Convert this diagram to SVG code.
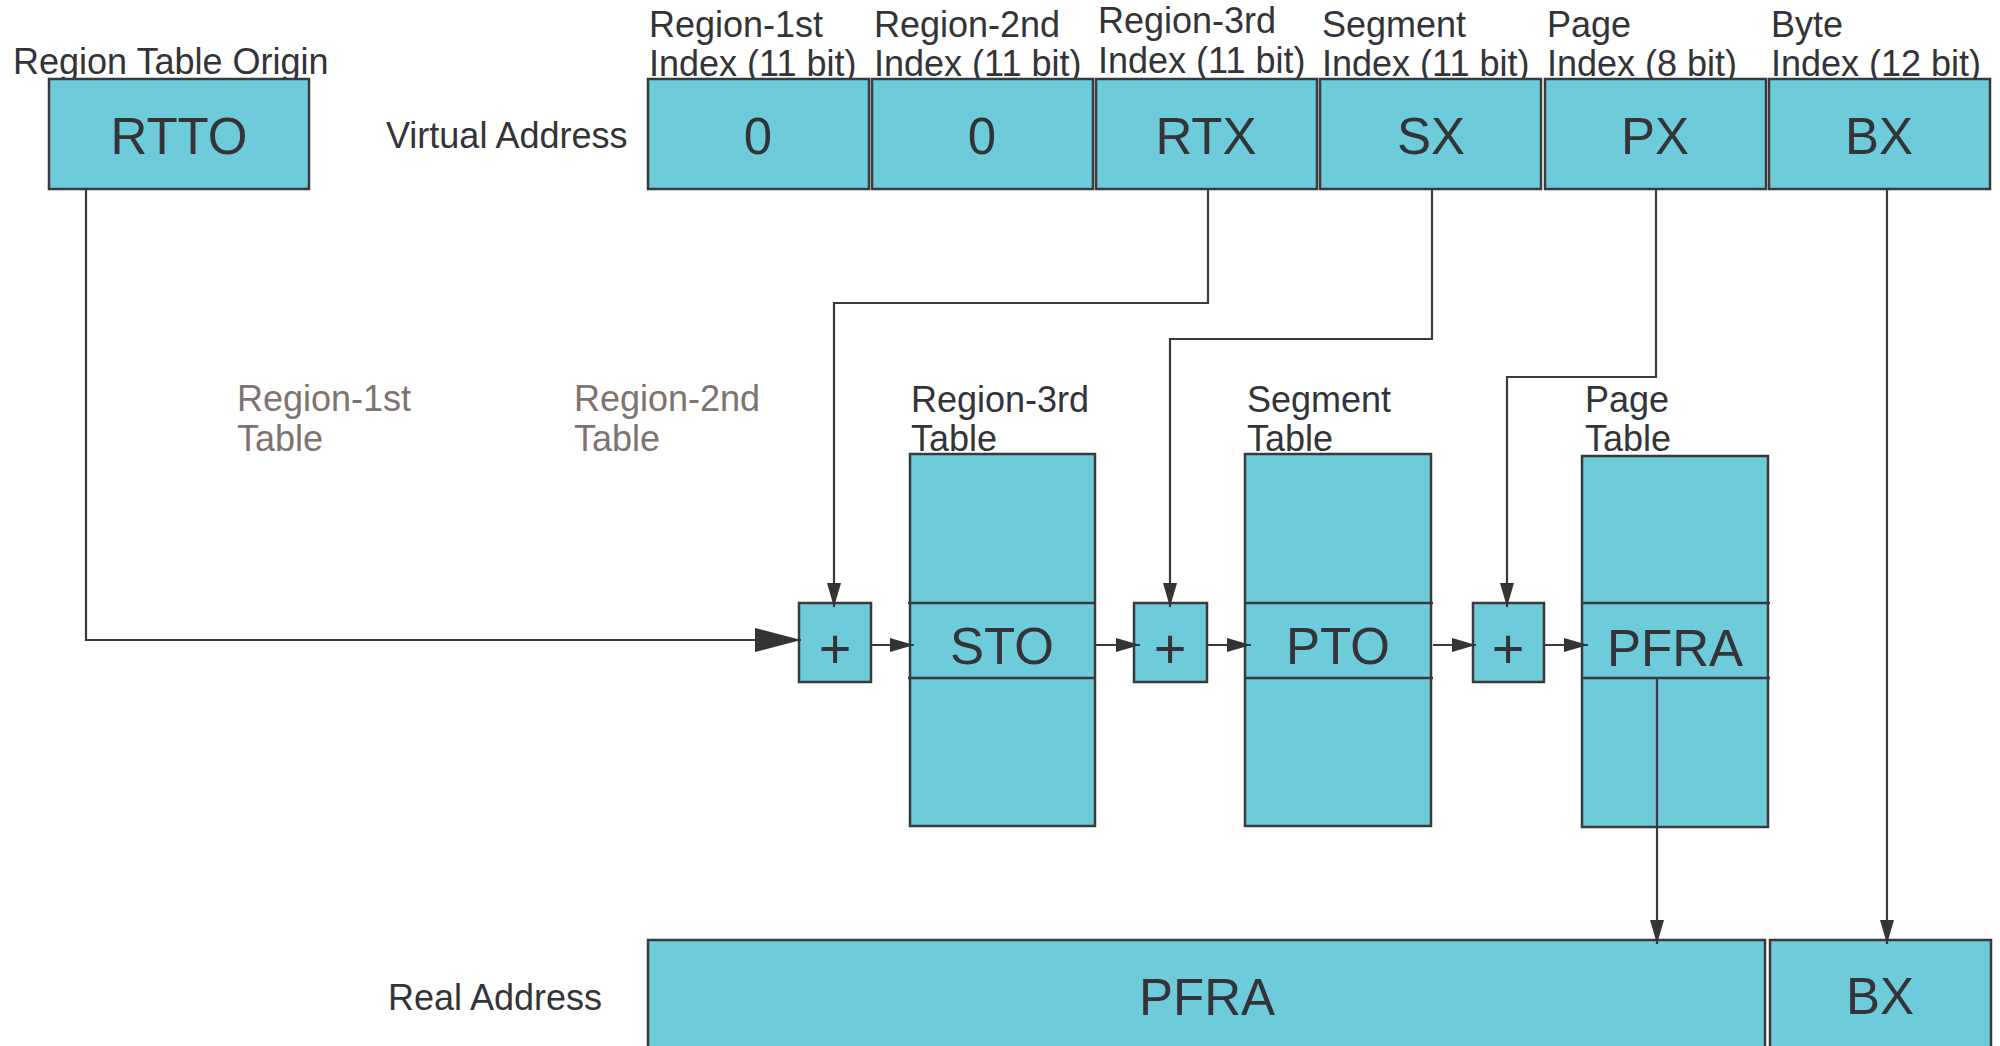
<svg xmlns="http://www.w3.org/2000/svg" width="2000" height="1046" viewBox="0 0 2000 1046">
<defs>
<style>
.box{fill:#6ecbd9;stroke:#3a3a3e;stroke-width:2.5}
.div{fill:none;stroke:#3a3a3e;stroke-width:2.5}
.lbl{font-family:"Liberation Sans",Arial,sans-serif;font-size:36px;fill:#333338}
.gray{font-family:"Liberation Sans",Arial,sans-serif;font-size:36px;fill:#7d7370}
.big{font-family:"Liberation Sans",Arial,sans-serif;font-size:51px;fill:#333338;text-anchor:middle}
.plus{font-family:"Liberation Sans",Arial,sans-serif;font-size:56px;fill:#333338;text-anchor:middle}
.conn{fill:none;stroke:#3a3a3e;stroke-width:2.2}
</style>
<marker id="arr" markerUnits="userSpaceOnUse" markerWidth="24" markerHeight="14" refX="24" refY="7" orient="auto"><path d="M0,0 L24,7 L0,14 z" fill="#333338"/></marker>
<marker id="arrBig" markerUnits="userSpaceOnUse" markerWidth="46" markerHeight="24" refX="46" refY="12" orient="auto"><path d="M0,0 L46,12 L0,24 z" fill="#333338"/></marker>
</defs>
<rect width="2000" height="1046" fill="#ffffff"/>

<g id="rtto">
<text class="lbl" x="13" y="74">Region Table Origin</text>
<rect class="box" x="49" y="79" width="260" height="110"/>
<text class="big" x="179" y="154">RTTO</text>
</g>

<g id="virtual-address">
<text class="lbl" x="386" y="148">Virtual Address</text>
</g>
<g id="va-r1x">
<text class="lbl" x="649" y="37">Region-1st</text>
<text class="lbl" x="649" y="76">Index (11 bit)</text>
<rect class="box" x="648" y="79" width="221" height="110"/>
<text class="big" x="758" y="154">0</text>
</g>
<g id="va-r2x">
<text class="lbl" x="874" y="37">Region-2nd</text>
<text class="lbl" x="874" y="76">Index (11 bit)</text>
<rect class="box" x="872" y="79" width="221" height="110"/>
<text class="big" x="982" y="154">0</text>
</g>
<g id="va-rtx">
<text class="lbl" x="1098" y="33">Region-3rd</text>
<text class="lbl" x="1098" y="73">Index (11 bit)</text>
<rect class="box" x="1096" y="79" width="221" height="110"/>
<text class="big" x="1206" y="154">RTX</text>
</g>
<g id="va-sx">
<text class="lbl" x="1322" y="37">Segment</text>
<text class="lbl" x="1322" y="76">Index (11 bit)</text>
<rect class="box" x="1320" y="79" width="221" height="110"/>
<text class="big" x="1431" y="154">SX</text>
</g>
<g id="va-px">
<text class="lbl" x="1547" y="37">Page</text>
<text class="lbl" x="1547" y="76">Index (8 bit)</text>
<rect class="box" x="1545" y="79" width="221" height="110"/>
<text class="big" x="1655" y="154">PX</text>
</g>
<g id="va-bx">
<text class="lbl" x="1771" y="37">Byte</text>
<text class="lbl" x="1771" y="76">Index (12 bit)</text>
<rect class="box" x="1769" y="79" width="221" height="110"/>
<text class="big" x="1879" y="154">BX</text>
</g>

<g id="region1-table">
<text class="gray" x="237" y="411">Region-1st</text>
<text class="gray" x="237" y="451">Table</text>
</g>
<g id="region2-table">
<text class="gray" x="574" y="411">Region-2nd</text>
<text class="gray" x="574" y="451">Table</text>
</g>

<g id="add1">
<rect class="box" x="799" y="603" width="72" height="79"/>
<text class="plus" x="835" y="668">+</text>
</g>
<g id="region3-table">
<text class="lbl" x="911" y="412">Region-3rd</text>
<text class="lbl" x="911" y="451">Table</text>
<rect class="box" x="910" y="454" width="185" height="372"/>
<path class="div" d="M908,603 H1096 M908,678 H1096"/>
<text class="big" x="1002" y="664">STO</text>
</g>
<g id="add2">
<rect class="box" x="1134" y="603" width="73" height="79"/>
<text class="plus" x="1170" y="668">+</text>
</g>
<g id="segment-table">
<text class="lbl" x="1247" y="412">Segment</text>
<text class="lbl" x="1247" y="451">Table</text>
<rect class="box" x="1245" y="454" width="186" height="372"/>
<path class="div" d="M1245,603 H1433 M1245,678 H1433"/>
<text class="big" x="1338" y="664">PTO</text>
</g>
<g id="add3">
<rect class="box" x="1473" y="603" width="71" height="79"/>
<text class="plus" x="1508" y="668">+</text>
</g>
<g id="page-table">
<text class="lbl" x="1585" y="412">Page</text>
<text class="lbl" x="1585" y="451">Table</text>
<rect class="box" x="1582" y="456" width="186" height="371"/>
<path class="div" d="M1582,603 H1770 M1582,678 H1770"/>
<text class="big" x="1675" y="666">PFRA</text>
</g>

<g id="real-address">
<text class="lbl" x="388" y="1010">Real Address</text>
</g>
<g id="ra-pfra">
<rect class="box" x="648" y="940" width="1117" height="130"/>
<text class="big" x="1207" y="1015">PFRA</text>
</g>
<g id="ra-bx">
<rect class="box" x="1770" y="940" width="221" height="130"/>
<text class="big" x="1880" y="1014">BX</text>
</g>

<g id="connectors">
<path class="conn" d="M86,189 V640 H801" marker-end="url(#arrBig)"/>
<path class="conn" d="M1208,189 V303 H834 V607" marker-end="url(#arr)"/>
<path class="conn" d="M1432,189 V339 H1170 V607" marker-end="url(#arr)"/>
<path class="conn" d="M1656,189 V377 H1507 V607" marker-end="url(#arr)"/>
<path class="conn" d="M1887,189 V944" marker-end="url(#arr)"/>
<path class="conn" d="M1657,678 V944" marker-end="url(#arr)"/>
<path class="conn" d="M871,645 H914" marker-end="url(#arr)"/>
<path class="conn" d="M1096,645 H1140" marker-end="url(#arr)"/>
<path class="conn" d="M1207,645 H1251" marker-end="url(#arr)"/>
<path class="conn" d="M1433,645 H1476" marker-end="url(#arr)"/>
<path class="conn" d="M1544,645 H1588" marker-end="url(#arr)"/>
</g>
</svg>
